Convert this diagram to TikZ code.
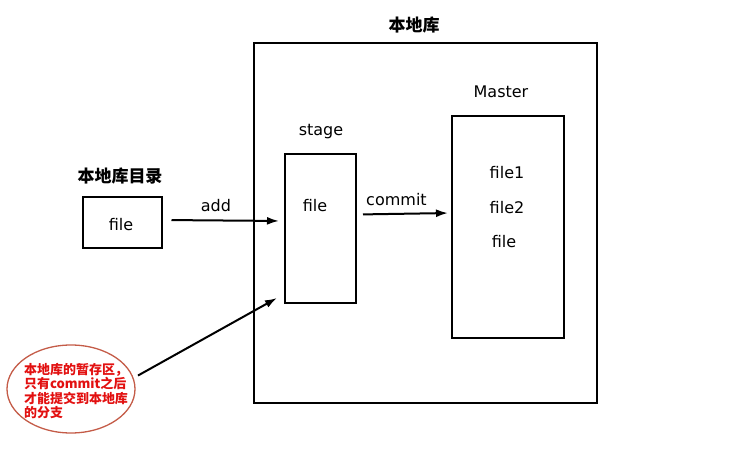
\documentclass[tikz,border=0pt]{standalone}
\usepackage{fontspec}
\setmainfont{DejaVu Sans}
\newfontfamily\cjk{Noto Sans CJK SC}
\usetikzlibrary{shapes.geometric,arrows.meta}
\definecolor{notered}{RGB}{226,16,16}
\definecolor{noteline}{RGB}{196,92,72}
\begin{document}
\begin{tikzpicture}[x=1pt, y=-1pt, line width=2pt,
  >={Latex[length=12pt,width=8pt]}]
\tikzset{
  box/.style={draw, rectangle, inner sep=0pt},
  lbl/.style={font=\fontsize{16}{19}\selectfont},
  title/.style={font=\cjk\bfseries\fontsize{17}{20}\selectfont},
  arr/.style={->, line width=2pt}
}
\useasboundingbox (0,0) rectangle (745,455);
% boxes
\node[box, minimum width=343pt, minimum height=360pt] (repo) at (425.5,223) {};
\node[box, minimum width=71pt,  minimum height=149pt] (stage) at (320.5,228.5) {};
\node[box, minimum width=112pt, minimum height=222pt] (master) at (508,227) {};
\node[box, minimum width=79pt,  minimum height=51pt]  (dir) at (122,222.5) {};

% titles
\node[title] (repotitle) at (414,25)  {本地库};
\node[title] (dirtitle)  at (120,176) {本地库目录};
\node[lbl]   (stagettl)  at (321,132) {stage};
\node[lbl]   (masterttl) at (501,92)  {Master};

% contents
\node[lbl] (dirfile)   at (121,225) {file};
\node[lbl] (stagefile) at (315,206) {file};
\node[lbl] (file1)     at (507,173) {file1};
\node[lbl] (file2)     at (507,208) {file2};
\node[lbl] (file3)     at (504,242) {file};

% note
\node[ellipse, draw=noteline, line width=1.3pt, inner sep=0pt,
      minimum width=128pt, minimum height=88pt] (note) at (71,389) {};
\node[align=left, inner sep=0pt, text=notered,
      font=\cjk\bfseries\fontsize{13}{14.5}\selectfont] (notetext) at (76,391)
  {本地库的暂存区，\\只有commit之后\\才能提交到本地库\\的分支};

% arrows
\draw[arr, shorten <=9pt, shorten >=5pt] ([yshift=2.5pt]dir.east) -- ([yshift=7.5pt]stage.west)
  node[lbl, pos=0.44, above=4pt] (addlbl) {add};
\draw[arr, shorten <=6pt, shorten >=3pt] ([yshift=14pt]stage.east) -- ([yshift=14pt]master.west)
  node[lbl, pos=0.42, above=4pt] (commitlbl) {commit};
\draw[arr, shorten <=5pt] (note.10) -- ([shift={(-7pt,6pt)}]stage.south west);
\end{tikzpicture}
\end{document}
